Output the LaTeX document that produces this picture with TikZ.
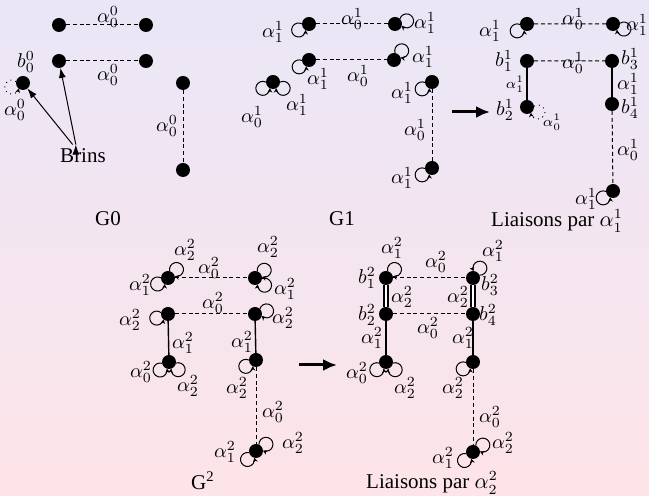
\documentclass[tikz,border=0pt]{standalone}
\usepackage[no-math]{fontspec}
\setmainfont{Liberation Serif}
\usetikzlibrary{arrows.meta, positioning}
\definecolor{fondhaut}{RGB}{234,230,247}
\definecolor{fondbas}{RGB}{253,228,232}

% boucle : #2 noeud, #3 direction, #4 sens (1 ou -1)
\newcommand{\boucle}[4][]{%
  \pgfmathtruncatemacro\bA{#3-31*#4}%
  \pgfmathtruncatemacro\bB{#3+180+31*#4}%
  \pgfmathtruncatemacro\bC{#3+180+31*#4+298*#4}%
  \draw[Boucle,#1] (#2.\bA) arc[start angle=\bB, end angle=\bC, radius=3.5pt];}

\begin{document}
\begin{tikzpicture}[x=0.5pt, y=0.5pt]
  \tikzset{Bille/.style={circle, fill=black, inner sep=0pt, outer sep=0pt, minimum size=7pt}}
  \tikzset{Etiq/.style={inner sep=0pt, font=\fontsize{10}{12}\selectfont}}
  \tikzset{Petit/.style={inner sep=0pt, font=\fontsize{7}{8}\selectfont}}
  \tikzset{Titre/.style={inner sep=0pt, font=\fontsize{10.5}{13}\selectfont}}
  \tikzset{Tiret/.style={dash pattern=on 2pt off 1.4pt, line width=0.5pt}}
  \tikzset{Boucle/.style={-{Stealth[length=2.2pt,width=2.4pt]}, line width=0.5pt}}
  \tikzset{Fleche/.style={-{Latex[length=7pt,width=6pt]}, line width=1.5pt}}
  \tikzset{Liaison/.style={line width=0.9pt}}
  \tikzset{Double/.style={double, double distance=1.4pt, line width=0.6pt}}

  \fill[top color=fondhaut, bottom color=fondbas] (0,0) rectangle (649,-496);
  \useasboundingbox (0,0) rectangle (649,-496);

  % G0
  \node[Bille] (A1) at (59,-25) {};
  \node[Bille] (A2) at (146,-25) {};
  \node[Bille] (A3) at (59,-61) {};
  \node[Bille] (A4) at (146,-61) {};
  \node[Bille] (A5) at (23,-83) {};
  \node[Bille] (A6) at (183,-83) {};
  \node[Bille] (A7) at (183,-170) {};
  \node[Etiq] (lA12) at (108,-17) {$\alpha_0^0$};
  \node[Etiq] (lA34) at (108,-75) {$\alpha_0^0$};
  \node[Etiq] (bA5) at (26,-62) {$b_0^0$};
  \node[Etiq] (lA5) at (15,-110) {$\alpha_0^0$};
  \node[Etiq] (lA67) at (167,-126) {$\alpha_0^0$};
  \node[Titre, inner sep=2pt] (Brins) at (83,-156) {Brins};
  \node[Titre] (G0) at (108,-219) {G0};

  \draw[Tiret] (A1) -- (A2) (A3) -- (A4) (A6) -- (A7);
  \boucle[dotted]{A5}{200}{1}
  \draw[-{Latex[length=5pt,width=3.5pt]}, line width=0.5pt]
      (Brins.132) edge (A5)
      (Brins.122) edge (A3)
  ;

  % G1
  \node[Bille] (B1) at (309,-24) {};
  \node[Bille] (B2) at (395,-24) {};
  \node[Bille] (B3) at (309,-60) {};
  \node[Bille] (B4) at (394,-60) {};
  \node[Bille] (B5) at (273,-82) {};
  \node[Bille] (B6) at (432,-82) {};
  \node[Bille] (B7) at (432,-168) {};
  \node[Etiq] (lB12) at (352,-19) {$\alpha_0^1$};
  \node[Etiq] (lB1) at (273,-32) {$\alpha_1^1$};
  \node[Etiq] (lB2) at (425,-23) {$\alpha_1^1$};
  \node[Etiq] (lB34) at (358,-76) {$\alpha_0^1$};
  \node[Etiq] (lB3) at (318,-79) {$\alpha_1^1$};
  \node[Etiq] (lB4) at (423,-57) {$\alpha_1^1$};
  \node[Etiq] (lB5a) at (252,-117) {$\alpha_0^1$};
  \node[Etiq] (lB5b) at (297,-105) {$\alpha_1^1$};
  \node[Etiq] (lB6) at (402,-93) {$\alpha_1^1$};
  \node[Etiq] (lB67) at (415,-130) {$\alpha_0^1$};
  \node[Etiq] (lB7) at (402,-178) {$\alpha_1^1$};
  \node[Titre] (G1) at (342,-219) {G1};

  \draw[Tiret] (B1) -- (B2) (B3) -- (B4) (B6) -- (B7);
  \boucle{B1}{210}{1}
  \boucle{B2}{15}{-1}
  \boucle{B3}{215}{1}
  \boucle{B4}{50}{-1}
  \boucle{B5}{212}{1}
  \boucle{B5}{328}{-1}
  \boucle{B6}{215}{1}
  \boucle{B7}{215}{1}

  \coordinate (F1a) at (452,-112);
  \coordinate (F1b) at (490,-112);
  \draw[Fleche] (F1a) -- (F1b);

  % liaisons par alpha 1
  \node[Bille] (C1) at (527,-24) {};
  \node[Bille] (C2) at (613,-24) {};
  \node[Bille] (C3) at (527,-61) {};
  \node[Bille] (C4) at (612,-61) {};
  \node[Bille] (C5) at (527,-107) {};
  \node[Bille] (C6) at (612,-104) {};
  \node[Bille] (C7) at (613,-191) {};
  \node[Etiq] (lC12) at (573,-19) {$\alpha_0^1$};
  \node[Etiq] (lC1) at (490,-31) {$\alpha_1^1$};
  \node[Etiq] (lC2) at (637,-25) {$\alpha_1^1$};
  \node[Etiq] (lC34) at (573,-63) {$\alpha_0^1$};
  \node[Etiq] (bC3) at (504,-61) {$b_1^1$};
  \node[Etiq] (bC4) at (630,-59) {$b_3^1$};
  \node[Petit] (lC35) at (515,-84) {$\alpha_1^1$};
  \node[Etiq] (bC5) at (505,-110) {$b_2^1$};
  \node[Petit] (lC5) at (552,-122) {$\alpha_0^1$};
  \node[Etiq] (lC46) at (628,-84) {$\alpha_1^1$};
  \node[Etiq] (bC6) at (630,-108) {$b_4^1$};
  \node[Etiq] (lC67) at (628,-150) {$\alpha_0^1$};
  \node[Etiq] (lC7) at (586,-199) {$\alpha_1^1$};
  \node[Titre] (L1) at (557,-221) {Liaisons par $\alpha_1^1$};

  \draw[Tiret] (C1) -- (C2) (C3) -- (C4) (C6) -- (C7);
  \draw[Liaison] (C3) -- (C5) (C4) -- (C6);
  \boucle{C1}{215}{1}
  \boucle{C2}{335}{-1}
  \boucle{C7}{215}{1}
  \boucle[dotted]{C5}{335}{-1}

  % G2
  \node[Bille] (D1) at (168,-278) {};
  \node[Bille] (D2) at (255,-278) {};
  \node[Bille] (D3) at (168,-314) {};
  \node[Bille] (D4) at (255,-314) {};
  \node[Bille] (D5) at (169,-362) {};
  \node[Bille] (D6) at (256,-360) {};
  \node[Bille] (D7) at (256,-451) {};
  \node[Etiq] (lD12) at (209,-268) {$\alpha_0^2$};
  \node[Etiq] (lD1a) at (185,-250) {$\alpha_2^2$};
  \node[Etiq] (lD1b) at (140,-285) {$\alpha_1^2$};
  \node[Etiq] (lD2a) at (268,-247) {$\alpha_2^2$};
  \node[Etiq] (lD2b) at (285,-289) {$\alpha_1^2$};
  \node[Etiq] (lD34) at (213,-303) {$\alpha_0^2$};
  \node[Etiq] (lD3) at (130,-320) {$\alpha_2^2$};
  \node[Etiq] (lD4) at (283,-318) {$\alpha_2^2$};
  \node[Etiq] (lD35) at (183,-343) {$\alpha_1^2$};
  \node[Etiq] (lD5a) at (141,-372) {$\alpha_0^2$};
  \node[Etiq] (lD5b) at (188,-386) {$\alpha_2^2$};
  \node[Etiq] (lD46) at (242,-342) {$\alpha_1^2$};
  \node[Etiq] (lD6) at (237,-388) {$\alpha_2^2$};
  \node[Etiq] (lD67) at (273,-412) {$\alpha_0^2$};
  \node[Etiq] (lD7a) at (293,-443) {$\alpha_2^2$};
  \node[Etiq] (lD7b) at (225,-452) {$\alpha_1^2$};
  \node[Titre] (G2) at (203,-481) {G\textsuperscript{2}};

  \draw[Tiret] (D1) -- (D2) (D3) -- (D4) (D6) -- (D7);
  \draw[line width=0.7pt] (D3) -- (D5) (D4) -- (D6);
  \boucle{D1}{45}{-1}
  \boucle{D1}{210}{1}
  \boucle{D2}{40}{-1}
  \boucle{D2}{323}{-1}
  \boucle{D3}{200}{1}
  \boucle{D4}{15}{-1}
  \boucle{D5}{222}{1}
  \boucle{D5}{320}{-1}
  \boucle{D6}{212}{1}
  \boucle{D7}{34}{-1}
  \boucle{D7}{225}{1}

  \coordinate (F2a) at (299,-365);
  \coordinate (F2b) at (337,-365);
  \draw[Fleche] (F2a) -- (F2b);

  % liaisons par alpha 2
  \node[Bille] (E1) at (386,-278) {};
  \node[Bille] (E2) at (473,-278) {};
  \node[Bille] (E3) at (386,-314) {};
  \node[Bille] (E4) at (473,-314) {};
  \node[Bille] (E5) at (386,-362) {};
  \node[Bille] (E6) at (473,-362) {};
  \node[Bille] (E7) at (473,-452) {};
  \node[Etiq] (lE12) at (436,-262) {$\alpha_0^2$};
  \node[Etiq] (lE1) at (392,-248) {$\alpha_1^2$};
  \node[Etiq] (lE2) at (493,-251) {$\alpha_1^2$};
  \node[Etiq] (lE34) at (428,-328) {$\alpha_0^2$};
  \node[Etiq] (lE13) at (402,-297) {$\alpha_2^2$};
  \node[Etiq] (lE24) at (458,-297) {$\alpha_2^2$};
  \node[Etiq] (bE1) at (367,-278) {$b_1^2$};
  \node[Etiq] (bE3) at (367,-315) {$b_2^2$};
  \node[Etiq] (bE2) at (490,-285) {$b_3^2$};
  \node[Etiq] (bE4) at (488,-315) {$b_4^2$};
  \node[Etiq] (lE35) at (372,-338) {$\alpha_1^2$};
  \node[Etiq] (lE5a) at (357,-373) {$\alpha_0^2$};
  \node[Etiq] (lE5b) at (405,-388) {$\alpha_2^2$};
  \node[Etiq] (lE46) at (463,-338) {$\alpha_1^2$};
  \node[Etiq] (lE6) at (453,-388) {$\alpha_2^2$};
  \node[Etiq] (lE67) at (490,-417) {$\alpha_0^2$};
  \node[Etiq] (lE7a) at (503,-443) {$\alpha_2^2$};
  \node[Etiq] (lE7b) at (443,-458) {$\alpha_1^2$};
  \node[Titre] (L2) at (432,-483) {Liaisons par $\alpha_2^2$};

  \draw[Tiret] (E1) -- (E2) (E3) -- (E4) (E6) -- (E7);
  \draw[Double] (E1) -- (E3) (E2) -- (E4);
  \draw[Liaison] (E3) -- (E5) (E4) -- (E6);
  \boucle{E1}{45}{-1}
  \boucle{E2}{55}{1}
  \boucle{E5}{220}{1}
  \boucle{E5}{320}{-1}
  \boucle{E6}{215}{1}
  \boucle{E7}{35}{-1}
  \boucle{E7}{225}{1}
\end{tikzpicture}
\end{document}
